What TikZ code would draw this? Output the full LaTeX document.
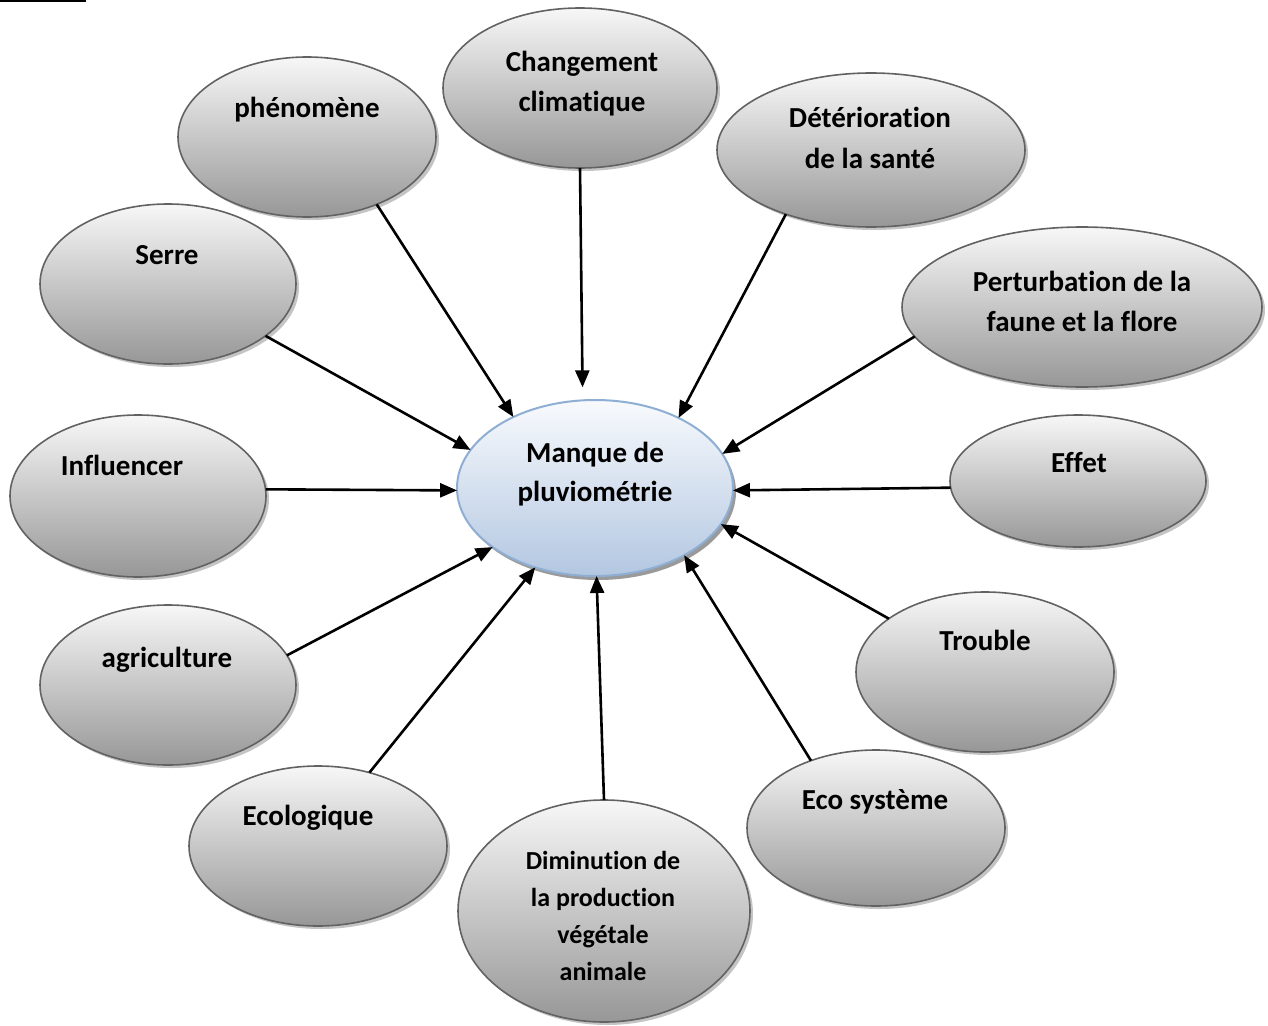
\documentclass[tikz,border=0pt]{standalone}
\usepackage{fontspec}
\setmainfont{Carlito}[Ligatures=NoCommon]
\usetikzlibrary{shapes.geometric,shadows,arrows.meta}
\definecolor{bord}{HTML}{626262}
\definecolor{gtop}{HTML}{F7F7F7}
\definecolor{gbot}{HTML}{979797}
\definecolor{shad}{HTML}{C4C4C4}
\definecolor{btop}{HTML}{F8FAFD}
\definecolor{bbot}{HTML}{B3C7E1}
\definecolor{bbord}{HTML}{8FAED4}
\definecolor{bshad}{HTML}{9A9A9A}
\tikzset{
  bubble/.style={ellipse, draw=bord, line width=1.6pt, top color=gtop, bottom color=gbot,
    inner sep=0pt, outer sep=0pt,
    drop shadow={shadow xshift=3pt, shadow yshift=-3pt, fill=shad, opacity=1}},
  core/.style={ellipse, draw=bbord, line width=2pt, top color=btop, bottom color=bbot,
    inner sep=0pt, outer sep=0pt,
    drop shadow={shadow xshift=3pt, shadow yshift=-4pt, fill=bshad, opacity=1}},
  lbl/.style={anchor=base, inner sep=0pt, font=\fontsize{29}{35}\selectfont\bfseries},
  lbls/.style={lbl, font=\fontsize{26}{32}\selectfont\bfseries},
  link/.style={line width=2.6pt, draw=black, -{Triangle[length=17pt,width=14pt]}},
}
\begin{document}
\begin{tikzpicture}[x=1pt,y=-1pt]
\useasboundingbox (0,0) rectangle (1268,1025);
\fill[black] (0,0) rectangle (86,2.5);

% ellipses
\node[bubble, minimum width=258pt, minimum height=160pt] (phen) at (307,137) {};
\node[bubble, minimum width=274pt, minimum height=160pt] (chg) at (580,88) {};
\node[bubble, minimum width=308pt, minimum height=154pt] (det) at (871,150) {};
\node[bubble, minimum width=256pt, minimum height=160pt] (serre) at (168,284) {};
\node[bubble, minimum width=360pt, minimum height=160pt] (pert) at (1082,307) {};
\node[bubble, minimum width=256pt, minimum height=162pt] (infl) at (138,496) {};
\node[bubble, minimum width=256pt, minimum height=132pt] (effet) at (1078,481) {};
\node[bubble, minimum width=256pt, minimum height=160pt] (agri) at (168,685) {};
\node[bubble, minimum width=258pt, minimum height=160pt] (trouble) at (985,672) {};
\node[bubble, minimum width=258pt, minimum height=160pt] (ecolog) at (318,846) {};
\node[bubble, minimum width=258pt, minimum height=156pt] (ecosys) at (876,828) {};
\node[bubble, minimum width=292pt, minimum height=222pt] (dimin) at (604,911) {};
\node[core, minimum width=276pt, minimum height=176pt] (core) at (595,488) {};

% connectors
\draw[link] (phen.-44) -- (core.139);
\draw[link, shorten >=13pt] (chg.-90) -- (core.98);
\draw[link] (det.-143) -- (core.40);
\draw[link] (serre.-28) -- (core.163);
\draw[link] (pert.-170) -- (core.15);
\draw[link] (infl.3) -- (core.181);
\draw[link] (effet.-177) -- (core.-1);
\draw[link] (agri.14) -- (core.-150);
\draw[link] (trouble.151) -- (core.-16);
\draw[link] (ecolog.55) -- (core.-127);
\draw[link] (dimin.90) -- (core.-89);
\draw[link] (ecosys.134) -- (core.-37.5);

% texts
\node[lbl] (phenT) at (307,117.5) {phénomène};
\node[lbl] (chgT1) at (582,71.5) {Changement};
\node[lbl] (chgT2) at (582,111.5) {climatique};
\node[lbl] (detT1) at (870,127) {Détérioration};
\node[lbl] (detT2) at (870,168) {de la santé};
\node[lbl] (serreT) at (167,264) {Serre};
\node[lbl] (pertT1) at (1082,291.5) {Perturbation de la};
\node[lbl] (pertT2) at (1082,331.5) {faune et la flore};
\node[lbl] (inflT) at (122,475) {Influencer};
\node[lbl] (effetT) at (1079,472) {Effet};
\node[lbl] (agriT) at (167,667) {agriculture};
\node[lbl] (troubleT) at (985,650) {Trouble};
\node[lbl] (ecologT) at (308,825) {Ecologique};
\node[lbl] (ecosysT) at (875,809) {Eco système};
\node[lbls] (diminT1) at (603,869) {Diminution de};
\node[lbls] (diminT2) at (603,906) {la production};
\node[lbls] (diminT3) at (603,943) {végétale};
\node[lbls] (diminT4) at (603,980) {animale};
\node[lbl] (coreT1) at (595,462) {Manque de};
\node[lbl] (coreT2) at (595,501) {pluviométrie};
\end{tikzpicture}
\end{document}
